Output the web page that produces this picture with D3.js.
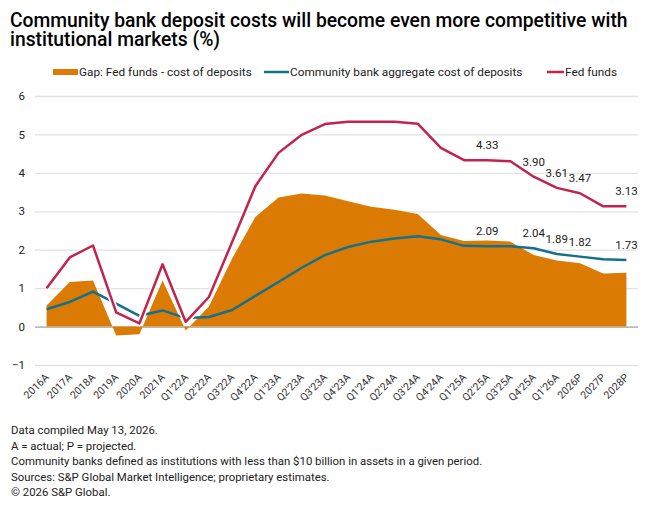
<!DOCTYPE html>
<meta charset="utf-8">
<style>
    body { margin: 0; background: #fff; }
    svg { display: block; font-family: Roboto, "Liberation Sans", sans-serif; }
</style>

<script src="https://cdn.jsdelivr.net/npm/d3@7"></script>

<svg id="chart" width="660" height="508"></svg>

<script>

// Data

var categories = ["2016A", "2017A", "2018A", "2019A", "2020A", "2021A",
    "Q1'22A", "Q2'22A", "Q3'22A", "Q4'22A", "Q1'23A", "Q2'23A", "Q3'23A", "Q4'23A",
    "Q1'24A", "Q2'24A", "Q3'24A", "Q4'24A", "Q1'25A", "Q2'25A", "Q3'25A", "Q4'25A",
    "Q1'26A", "2026P", "2027P", "2028P"];

var fedFunds = [1.00, 1.80, 2.11, 0.37, 0.08, 1.62, 0.12, 0.77, 2.20, 3.65, 4.52, 4.99, 5.27, 5.33,
    5.33, 5.33, 5.28, 4.65, 4.33, 4.33, 4.30, 3.90, 3.61, 3.47, 3.13, 3.13];

var depositCost = [0.45, 0.64, 0.91, 0.60, 0.28, 0.42, 0.22, 0.25, 0.43, 0.80, 1.16, 1.53, 1.86, 2.07,
    2.21, 2.29, 2.35, 2.27, 2.10, 2.09, 2.09, 2.04, 1.89, 1.82, 1.75, 1.73];

var gap = [0.55, 1.16, 1.20, -0.23, -0.20, 1.20, -0.10, 0.52, 1.77, 2.85, 3.36, 3.46, 3.41, 3.26,
    3.12, 3.04, 2.93, 2.38, 2.23, 2.24, 2.21, 1.86, 1.72, 1.65, 1.38, 1.40];

// categories that get a value label
var labelled = ["Q2'25A", "Q4'25A", "Q1'26A", "2026P", "2028P"];

var yTicks = [-1, 0, 1, 2, 3, 4, 5, 6];

var title = ["Community bank deposit costs will become even more competitive with",
             "institutional markets (%)"];

var notes = ["Data compiled May 13, 2026.",
             "A = actual; P = projected.",
             "Community banks defined as institutions with less than $10 billion in assets in a given period.",
             "Sources: S&P Global Market Intelligence; proprietary estimates.",
             "\u00a9 2026 S&P Global."];

var orange = '#dc7b03';
var blue   = '#14708b';
var red    = '#c2234f';


// Setup

var svg = d3.select('svg#chart');

var plotLeft = 35, plotRight = 638, plotTop = 96, plotBottom = 365;

var x = d3.scaleBand()
    .domain(categories)
    .range([plotLeft, plotRight]);

var cx = function (i) { return x(categories[i]) + x.bandwidth() / 2; };

var y = d3.scaleLinear()
    .domain([-1, 6])
    .range([plotBottom, plotTop]);


// Title

svg.append('g')
    .selectAll('text')
    .data(title)
    .enter().append('text')
    .attr('x', 10)
    .attr('y', function (d, i) { return 27 + i * 18.5; })
    .attr('font-size', '19.3px')
    .attr('font-weight', 500)
    .attr('fill', '#000')
    .text(function (d) { return d; });


// Legend

var legend = svg.append('g').attr('font-size', '11.8px').attr('fill', '#222');

legend.append('rect').attr('x', 53).attr('y', 69).attr('width', 25).attr('height', 6).attr('fill', orange);
legend.append('text').attr('x', 79).attr('y', 76).text('Gap: Fed funds - cost of deposits');

legend.append('line').attr('x1', 264).attr('x2', 289).attr('y1', 72).attr('y2', 72)
    .attr('stroke', blue).attr('stroke-width', 2.5);
legend.append('text').attr('x', 290).attr('y', 76).text('Community bank aggregate cost of deposits');

legend.append('line').attr('x1', 547).attr('x2', 564).attr('y1', 72).attr('y2', 72)
    .attr('stroke', red).attr('stroke-width', 2.5);
legend.append('text').attr('x', 565).attr('y', 76).text('Fed funds');


// Grid and y axis

var yAxis = d3.axisLeft(y)
    .tickValues(yTicks)
    .tickSize(plotRight - plotLeft)
    .tickFormat(d3.format('d'));

var yg = svg.append('g')
    .attr('transform', 'translate(' + plotRight + ',0)')
    .call(yAxis);

yg.select('.domain').remove();
yg.selectAll('.tick line')
    .attr('stroke', function (d) { return d === 0 ? '#a0a0a0' : '#e2e2e2'; })
    .attr('stroke-width', 1.3);
yg.selectAll('.tick text')
    .attr('x', 25 - plotRight)
    .attr('font-size', '11.5px')
    .attr('font-family', 'Roboto, sans-serif')
    .attr('fill', '#222');


// X axis labels

var xAxis = d3.axisBottom(x).tickSize(0);

var xg = svg.append('g')
    .attr('transform', 'translate(0,' + plotBottom + ')')
    .call(xAxis);

xg.select('.domain').remove();
xg.selectAll('.tick text')
    .attr('font-size', '10.5px')
    .attr('font-family', 'Roboto, sans-serif')
    .attr('fill', '#333')
    .attr('text-anchor', 'end')
    .attr('dy', null)
    .attr('y', 0)
    .attr('transform', 'translate(3,13) rotate(-45)');


// Gap area

var area = d3.area()
    .x(function (d, i) { return cx(i); })
    .y0(y(0))
    .y1(function (d) { return y(d); });

svg.append('path')
    .attr('d', area(gap))
    .attr('fill', orange);


// Lines

var line = d3.line()
    .x(function (d, i) { return cx(i); })
    .y(function (d) { return y(d); });

svg.append('path')
    .attr('d', line(depositCost))
    .attr('fill', 'none')
    .attr('stroke', blue)
    .attr('stroke-width', 2.5)
    .attr('stroke-linejoin', 'round');

svg.append('path')
    .attr('d', line(fedFunds))
    .attr('fill', 'none')
    .attr('stroke', '#fff')
    .attr('stroke-width', 6)
    .attr('stroke-linejoin', 'round');

svg.append('path')
    .attr('d', line(fedFunds))
    .attr('fill', 'none')
    .attr('stroke', red)
    .attr('stroke-width', 2.5)
    .attr('stroke-linejoin', 'round');


// Value labels

var labelIdx = labelled.map(function (c) { return categories.indexOf(c); });

[fedFunds, depositCost].forEach(function (series) {
    svg.append('g')
        .selectAll('text')
        .data(labelIdx)
        .enter().append('text')
        .attr('x', function (i) { return cx(i); })
        .attr('y', function (i) { return y(series[i]) - 11; })
        .attr('text-anchor', 'middle')
        .attr('font-size', '11.5px')
        .attr('fill', '#222')
        .text(function (i) { return series[i].toFixed(2); });
});


// Footnotes

svg.append('g')
    .selectAll('text')
    .data(notes)
    .enter().append('text')
    .attr('x', 11)
    .attr('y', function (d, i) { return 434 + i * 15.5; })
    .attr('font-size', '11.4px')
    .attr('fill', '#222')
    .text(function (d) { return d; });

</script>
